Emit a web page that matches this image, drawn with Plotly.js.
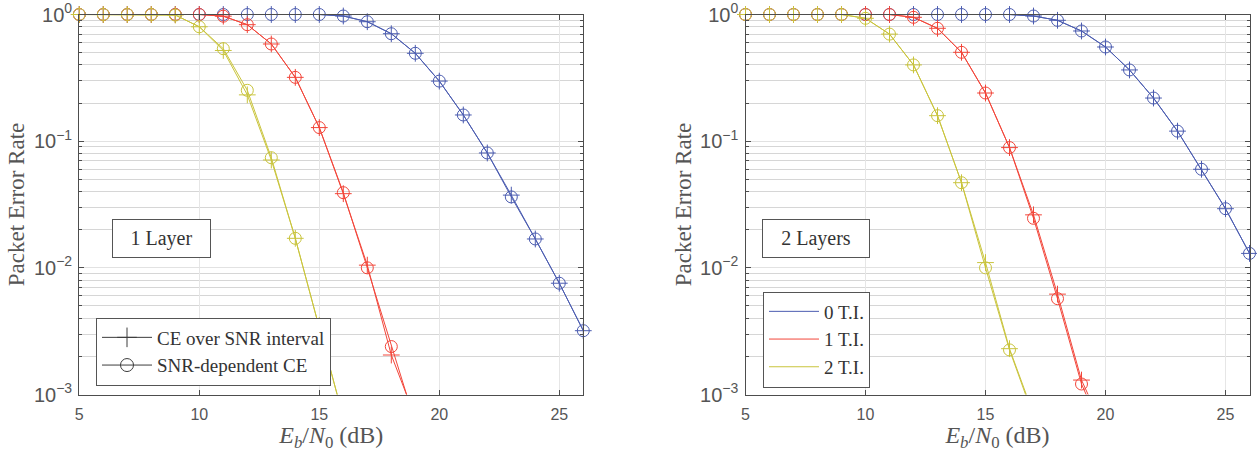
<!DOCTYPE html>
<html>
<head>
<meta charset="utf-8">
<script src="https://cdn.plot.ly/plotly-3.0.1.min.js"></script>
<style>html,body{margin:0;padding:0;background:#fff;}</style>
</head>
<body>
<div id="chart" style="width:1257px;height:452px;"></div>
<script>
// Eb/N0 (dB)
const snr = [5,6,7,8,9,10,11,12,13,14,15,16,17,18,19,20,21,22,23,24,25,26];

// 1 Layer
const l1_ti0_interval = [1,1,1,1,1,1,1,1,1,1,1,0.973,0.877,0.705,0.494,0.298,0.161,0.0807,0.0375,0.0169,0.00756,0.00319];
const l1_ti0_snrdep   = [1,1,1,1,1,1,1,1,1,1,1,0.973,0.877,0.705,0.494,0.298,0.161,0.0807,0.0363,0.0169,0.00756,0.00319];
const l1_ti1_interval = [1,1,1,1,1,1,0.97,0.831,0.585,0.319,0.128,0.0385,0.0105,0.00205,0.00066,null,null,null,null,null,null,null];
const l1_ti1_snrdep   = [1,1,1,1,1,1,0.97,0.831,0.585,0.319,0.128,0.0392,0.0100,0.00239,0.0006,null,null,null,null,null,null,null];
const l1_ti2_interval = [1,1,1,1,0.99,0.80,0.52,0.232,0.071,0.0171,0.0035,0.00066,null,null,null,null,null,null,null,null,null,null];
const l1_ti2_snrdep   = [1,1,1,1,0.99,0.80,0.537,0.252,0.074,0.0171,0.00348,0.00066,null,null,null,null,null,null,null,null,null,null];

// 2 Layers
const l2_ti0_interval = [1,1,1,1,1,1,1,1,1,1,1,1,0.973,0.90,0.741,0.554,0.365,0.219,0.12,0.060,0.0293,0.013];
const l2_ti0_snrdep   = [1,1,1,1,1,1,1,1,1,1,1,1,0.973,0.90,0.741,0.554,0.365,0.219,0.12,0.060,0.0293,0.013];
const l2_ti1_interval = [1,1,1,1,1,1,1,0.95,0.778,0.503,0.24,0.089,0.0262,0.0062,0.0013,0.0005,null,null,null,null,null,null];
const l2_ti1_snrdep   = [1,1,1,1,1,1,1,0.95,0.778,0.503,0.24,0.089,0.0246,0.00571,0.00121,0.00045,null,null,null,null,null,null];
const l2_ti2_interval = [1,1,1,1,1,0.933,0.70,0.40,0.159,0.047,0.011,0.0023,0.0007,null,null,null,null,null,null,null,null,null];
const l2_ti2_snrdep   = [1,1,1,1,1,0.933,0.70,0.40,0.159,0.047,0.0100,0.00225,0.00067,null,null,null,null,null,null,null,null,null];

const seriesNames = ['0 T.I.', '1 T.I.', '2 T.I.'];
const methodNames = ['CE over SNR interval', 'SNR-dependent CE'];
const yTickAlias = {'1': '10<sup>0</sup>'};
const panelLabels = ['1 Layer', '2 Layers'];

const colors = ['#4b5cb0', '#f2463a', '#c9c43d'];
const W = 1257, H = 452;
const serif = 'Liberation Serif, Times New Roman, serif';
const sans = 'Liberation Sans, Arial, sans-serif';

function tr(y, color, symbol, xa, ya) {
  return {
    x: snr, y: y, xaxis: xa, yaxis: ya, type: 'scatter', mode: 'lines+markers',
    showlegend: false, connectgaps: false, cliponaxis: false,
    line: {color: color, width: 1},
    marker: {symbol: symbol, size: 12, color: color, line: {color: color, width: 1}},
    hoverinfo: 'skip'
  };
}

const l1 = [[l1_ti0_interval, l1_ti0_snrdep], [l1_ti1_interval, l1_ti1_snrdep], [l1_ti2_interval, l1_ti2_snrdep]];
const l2 = [[l2_ti0_interval, l2_ti0_snrdep], [l2_ti1_interval, l2_ti1_snrdep], [l2_ti2_interval, l2_ti2_snrdep]];

const traces = [];
[[l1, 'x', 'y'], [l2, 'x2', 'y2']].forEach(([set, xa, ya]) => {
  set.forEach((pair, i) => {
    traces.push(tr(pair[0], colors[i], 'cross-thin-open', xa, ya));
    traces.push(tr(pair[1], colors[i], 'circle-open', xa, ya));
  });
});

// legend entries
const legendGray = '#3c3c3c';
traces.push({x: [null], y: [null], xaxis: 'x', yaxis: 'y', type: 'scatter', mode: 'lines+markers',
  name: methodNames[0], legend: 'legend', showlegend: true,
  line: {color: legendGray, width: 1},
  marker: {symbol: 'cross-thin-open', size: 14, color: legendGray, line: {color: legendGray, width: 1}}});
traces.push({x: [null], y: [null], xaxis: 'x', yaxis: 'y', type: 'scatter', mode: 'lines+markers',
  name: methodNames[1], legend: 'legend', showlegend: true,
  line: {color: legendGray, width: 1},
  marker: {symbol: 'circle-open', size: 13, color: legendGray, line: {color: legendGray, width: 1}}});
seriesNames.forEach((n, i) => {
  traces.push({x: [null], y: [null], xaxis: 'x2', yaxis: 'y2', type: 'scatter', mode: 'lines',
    name: n, legend: 'legend2', showlegend: true, line: {color: colors[i], width: 1}});
});

const axisColor = '#4d4d4d';
function xax(domain, anchor) {
  return {
    domain: domain, anchor: anchor, range: [5, 26], tick0: 0, dtick: 5,
    ticks: 'inside', ticklen: 5, tickcolor: axisColor, tickwidth: 1,
    showline: true, linecolor: axisColor, linewidth: 1, mirror: 'ticks',
    showgrid: true, gridcolor: '#e6e6e6', gridwidth: 1, zeroline: false,
    tickfont: {family: sans, size: 16, color: '#555'},
    ticklabelstandoff: 5,
    title: {text: '<i>E</i><sub><i>b</i></sub>/<i>N</i><sub>0</sub> (dB)', font: {family: serif, size: 24, color: '#555'}, standoff: 3}
  };
}
function yax(domain, anchor) {
  return {
    domain: domain, anchor: anchor, type: 'log', range: [-3, 0], dtick: 1,
    exponentformat: 'power', labelalias: yTickAlias,
    ticks: 'inside', ticklen: 5, tickcolor: axisColor, tickwidth: 1,
    showline: true, linecolor: axisColor, linewidth: 1, mirror: 'ticks',
    showgrid: true, gridcolor: '#e2e2e2', gridwidth: 1, zeroline: false,
    minor: {dtick: 'D1', ticks: 'inside', ticklen: 3, tickcolor: axisColor, showgrid: true, gridcolor: '#d6d6d6', gridwidth: 1},
    tickfont: {family: sans, size: 16, color: '#555'},
    ticklabelstandoff: 3,
    title: {text: 'Packet Error Rate', font: {family: serif, size: 23, color: '#555'}, standoff: 2}
  };
}

const yDom = [1 - 394.5 / H, 1 - 14.5 / H];
const legendFont = {family: serif, size: 19, color: '#333'};
const layout = {
  width: W, height: H, margin: {l: 0, r: 0, t: 0, b: 0},
  paper_bgcolor: '#fff', plot_bgcolor: '#fff', showlegend: true,
  xaxis: xax([79.3 / W, 583.3 / W], 'y'),
  yaxis: yax(yDom, 'x'),
  xaxis2: xax([745.5 / W, 1249.5 / W], 'y2'),
  yaxis2: yax(yDom, 'x2'),
  legend: {x: 96 / W, xanchor: 'left', y: 1 - 351.5 / H, yanchor: 'middle',
    bgcolor: '#fff', bordercolor: '#555', borderwidth: 1, font: legendFont, itemwidth: 50, tracegroupgap: 0},
  legend2: {x: 763 / W, xanchor: 'left', y: 1 - 339.5 / H, yanchor: 'middle',
    bgcolor: '#fff', bordercolor: '#555', borderwidth: 1, font: legendFont, itemwidth: 50, tracegroupgap: 0},
  annotations: [
    {text: panelLabels[0], xref: 'paper', yref: 'paper', x: 161.5 / W, y: 1 - 238.5 / H, xanchor: 'center', yanchor: 'middle',
     showarrow: false, font: {family: serif, size: 20, color: '#333'}, bgcolor: '#fff', bordercolor: '#555', borderwidth: 1,
     borderpad: 0, width: 97, height: 37},
    {text: panelLabels[1], xref: 'paper', yref: 'paper', x: 816 / W, y: 1 - 238.5 / H, xanchor: 'center', yanchor: 'middle',
     showarrow: false, font: {family: serif, size: 20, color: '#333'}, bgcolor: '#fff', bordercolor: '#555', borderwidth: 1,
     borderpad: 0, width: 106, height: 37}
  ]
};

Plotly.newPlot('chart', traces, layout, {staticPlot: true, displayModeBar: false});
</script>
</body>
</html>
